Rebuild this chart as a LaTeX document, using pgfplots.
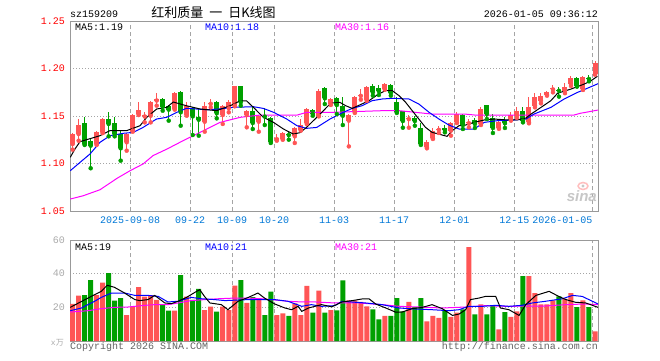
\documentclass[border=0pt]{standalone}
\usepackage{pgfplots}
\pgfplotsset{compat=1.18}
\usepackage{pgfplotstable}
\usepackage{fontspec}
\setmainfont{Liberation Mono}
\newfontfamily\cjk{Noto Sans CJK SC}
\newfontfamily\sansf{Liberation Sans}
\definecolor{cRed}{RGB}{255,85,85}
\definecolor{cGreen}{RGB}{0,160,0}
\definecolor{cFrame}{RGB}{153,153,153}
\definecolor{cGrid}{RGB}{165,165,165}
\definecolor{cDate}{RGB}{0,120,215}
\definecolor{cMag}{RGB}{255,0,255}
\definecolor{cBlue}{RGB}{0,0,255}
\definecolor{cVol}{RGB}{170,170,170}
\definecolor{cCopy}{RGB}{100,100,100}

% up (red) candles: index, open, high, low, close, volume
\pgfplotstableread{
i o h l c v
0 1.1205 1.1321 1.1146 1.1310 22.0
1 1.1310 1.1468 1.1240 1.1405 27.0
4 1.1205 1.1346 1.1195 1.1335 27.3
5 1.1328 1.1475 1.1320 1.1468 34.7
9 1.1223 1.1320 1.1135 1.1310 15.4
10 1.1346 1.1520 1.1335 1.1510 20.4
11 1.1520 1.1644 1.1510 1.1567 32.0
12 1.1495 1.1539 1.1433 1.1506 26.3
13 1.1503 1.1661 1.1433 1.1651 27.3
14 1.1663 1.1742 1.1609 1.1674 24.4
17 1.1574 1.1749 1.1567 1.1739 18.0
19 1.1510 1.1651 1.1503 1.1602 26.3
22 1.1440 1.1644 1.1335 1.1609 18.4
23 1.1628 1.1679 1.1591 1.1639 20.4
25 1.1510 1.1616 1.1416 1.1602 20.4
26 1.1581 1.1672 1.1539 1.1644 18.4
27 1.1609 1.1819 1.1602 1.1819 32.9
29 1.1510 1.1560 1.1381 1.1556 22.6
31 1.1440 1.1510 1.1335 1.1496 25.3
34 1.1256 1.1310 1.1240 1.1267 15.4
35 1.1258 1.1335 1.1250 1.1321 16.4
37 1.1286 1.1381 1.1216 1.1370 22.4
38 1.1356 1.1468 1.1346 1.1405 15.4
39 1.1426 1.1581 1.1416 1.1574 32.7
41 1.1503 1.1784 1.1496 1.1767 29.9
43 1.1626 1.1686 1.1616 1.1679 18.4
46 1.1451 1.1521 1.1180 1.1510 24.2
47 1.1539 1.1714 1.1532 1.1704 24.2
48 1.1712 1.1784 1.1672 1.1723 23.2
49 1.1665 1.1812 1.1658 1.1805 20.6
52 1.1784 1.1847 1.1777 1.1837 14.9
56 1.1467 1.1510 1.1377 1.1478 23.2
59 1.1170 1.1251 1.1160 1.1230 11.7
60 1.1265 1.1370 1.1258 1.1346 14.9
61 1.1354 1.1398 1.1321 1.1365 13.7
63 1.1346 1.1440 1.1293 1.1426 14.3
64 1.1433 1.1539 1.1426 1.1518 16.8
66 1.1424 1.1470 1.1381 1.1435 55.8
68 1.1416 1.1598 1.1405 1.1574 21.8
71 1.1374 1.1451 1.1365 1.1433 6.9
73 1.1468 1.1539 1.1451 1.1514 14.3
74 1.1504 1.1598 1.1480 1.1549 17.6
76 1.1433 1.1697 1.1423 1.1598 38.6
77 1.1609 1.1739 1.1591 1.1704 28.5
78 1.1661 1.1739 1.1633 1.1714 21.8
79 1.1725 1.1760 1.1714 1.1753 21.8
80 1.1780 1.1826 1.1749 1.1791 24.2
82 1.1767 1.1851 1.1740 1.1809 25.1
83 1.1837 1.1921 1.1816 1.1900 28.5
85 1.1781 1.1921 1.1774 1.1914 24.2
87 1.1942 1.2075 1.1935 1.2058 5.7
}\upT

% down (green) candles
\pgfplotstableread{
i o h l c v
2 1.1426 1.1486 1.1195 1.1205 27.3
3 1.1240 1.1258 1.0950 1.1188 36.2
6 1.1468 1.1546 1.1286 1.1416 40.4
7 1.1426 1.1486 1.1286 1.1310 24.0
8 1.1310 1.1346 1.1030 1.1160 25.5
15 1.1679 1.1686 1.1556 1.1598 21.4
16 1.1609 1.1616 1.1451 1.1567 18.0
18 1.1756 1.1763 1.1398 1.1539 39.2
20 1.1581 1.1591 1.1300 1.1496 24.4
21 1.1493 1.1581 1.1293 1.1461 30.9
24 1.1651 1.1661 1.1475 1.1528 17.4
28 1.1819 1.1819 1.1609 1.1644 36.2
30 1.1556 1.1609 1.1363 1.1426 26.0
32 1.1505 1.1581 1.1405 1.1494 15.4
33 1.1475 1.1486 1.1216 1.1230 29.3
36 1.1310 1.1328 1.1251 1.1299 14.9
40 1.1567 1.1574 1.1503 1.1521 16.8
42 1.1791 1.1802 1.1626 1.1686 16.8
44 1.1686 1.1696 1.1521 1.1616 18.2
45 1.1609 1.1696 1.1405 1.1503 36.0
50 1.1812 1.1837 1.1714 1.1749 18.8
51 1.1798 1.1826 1.1721 1.1763 12.9
53 1.1826 1.1833 1.1714 1.1742 14.9
54 1.1644 1.1696 1.1532 1.1546 25.5
55 1.1553 1.1556 1.1377 1.1447 17.6
57 1.1475 1.1503 1.1398 1.1447 20.2
58 1.1374 1.1426 1.1195 1.1205 25.5
62 1.1370 1.1405 1.1328 1.1353 18.2
65 1.1510 1.1521 1.1363 1.1405 18.8
67 1.1458 1.1475 1.1374 1.1416 15.8
69 1.1616 1.1616 1.1468 1.1521 15.8
70 1.1475 1.1521 1.1321 1.1374 21.2
72 1.1458 1.1486 1.1374 1.1423 17.2
75 1.1549 1.1591 1.1433 1.1451 38.6
81 1.1776 1.1802 1.1704 1.1765 26.5
84 1.1900 1.1907 1.1809 1.1819 20.2
86 1.1900 1.1935 1.1865 1.1889 20.2
}\downT

\pgfplotsset{kstyle/.style={
  scale only axis, width=528pt,
  xmin=-0.44, xmax=87.5,
  axis line style={cFrame, line width=1pt},
  xtick={9.56,19.56,26.56,33.56,43.56,53.56,63.56,73.56,86.56},
  xmajorgrids, ymajorgrids,
  x grid style={cGrid, dash pattern=on 4pt off 3pt, line width=0.9pt},
  y grid style={cGrid, dash pattern=on 1pt off 2pt, line width=0.9pt},
  major tick length=0pt,
  /pgf/number format/assume math mode=true,
  ticklabel style={font=\fontsize{10}{12}\selectfont},
  yticklabel style={anchor=east, inner sep=0pt, xshift=-5pt},
}}

\begin{document}
\begin{tikzpicture}[x=1pt,y=1pt]
\useasboundingbox (0,0) rectangle (660,-360);
\fill[white] (0,0) rectangle (660,-360);

% ---------------- price panel ----------------
\begin{axis}[kstyle, at={(70pt,-21pt)}, anchor=north west, height=190pt,
  ymin=1.05, ymax=1.25, ytick={1.05,1.1,1.15,1.2,1.25},
  yticklabel style={color=red, /pgf/number format/.cd, fixed, fixed zerofill, precision=2},
  xticklabels={2025-09-08,09-22,10-09,10-20,11-03,11-17,12-01,12-15,\llap{2026-01-05}},
  xticklabel style={color=cDate, anchor=north, inner sep=0pt, yshift=-5.5pt},
]
% wicks
\addplot[cRed, only marks, mark=none, error bars/.cd, y dir=plus, y explicit, error mark=none,
  error bar style={line width=1pt, draw=cRed}]
  table[x=i, y=l, y error expr=\thisrow{h}-\thisrow{l}] {\upT};
\addplot[cGreen, only marks, mark=none, error bars/.cd, y dir=plus, y explicit, error mark=none,
  error bar style={line width=1pt, draw=cGreen}]
  table[x=i, y=l, y error expr=\thisrow{h}-\thisrow{l}] {\downT};
% bodies
\addplot[cRed, only marks, mark=none, error bars/.cd, y dir=plus, y explicit, error mark=none,
  error bar style={line width=5pt, draw=cRed}]
  table[x=i, y=o, y error expr=\thisrow{c}-\thisrow{o}] {\upT};
\addplot[cGreen, only marks, mark=none, error bars/.cd, y dir=plus, y explicit, error mark=none,
  error bar style={line width=5pt, draw=cGreen}]
  table[x=i, y=c, y error expr=\thisrow{o}-\thisrow{c}] {\downT};
% MA30
\addplot[cMag, line width=1pt, mark=none] coordinates {
(-0.4,1.0626) (1.73,1.066) (4.56,1.0724) (7.39,1.0844) (9.56,1.0924) (11.73,1.0995)
(13.39,1.1083) (15.73,1.1153) (18.39,1.124) (21.23,1.1328) (24.56,1.1433) (27.89,1.1486)
(31.23,1.151) (37.39,1.151) (39,1.1539) (43.39,1.1539) (51.56,1.1556) (54.39,1.1556)
(57.06,1.1539) (59.89,1.152) (65.39,1.152) (67,1.151) (83.5,1.151) (84.5,1.1528)
(86,1.1545) (87.5,1.1563)};
% MA10
\addplot[cBlue, line width=1pt, mark=none] coordinates {
(-0.4,1.0924) (1.23,1.1012) (2.89,1.11) (4.56,1.1223) (6.23,1.1293) (8.46,1.1318)
(10.11,1.1328) (11.76,1.1381) (13.96,1.1468) (15.66,1.1486) (17.36,1.1539) (18.96,1.1581)
(22.36,1.1566) (24.56,1.1575) (26.76,1.1591) (30.11,1.1598) (31.76,1.158) (33.46,1.1539)
(35.66,1.1468) (37.36,1.1398) (38.96,1.137) (40.66,1.138) (42.86,1.1468) (44.86,1.1532)
(46.56,1.158) (48.23,1.1609) (49.86,1.1661) (51.56,1.1679) (53.23,1.1686) (56.01,1.1679)
(57.66,1.1626) (59.36,1.1539) (61.01,1.1468) (62.66,1.1405) (64.36,1.1363) (66.86,1.1363)
(68.56,1.1433) (70.76,1.1451) (73.56,1.1458) (75.51,1.1468) (76.86,1.1521) (79.66,1.1591)
(81.86,1.1679) (84.11,1.1749) (86.36,1.1809) (87.5,1.184)};
% MA5
\addplot[black, line width=1pt, mark=none] coordinates {
(-0.4,1.1065) (0.39,1.1153) (1.23,1.123) (4.56,1.1293) (6.23,1.1346) (9.0,1.1346)
(11.23,1.1398) (12.34,1.1486) (14.0,1.1574) (15.67,1.1591) (16.76,1.1647) (18.96,1.1608)
(21.23,1.1574) (23.96,1.1556) (26.23,1.1608) (27.89,1.166) (28.96,1.166) (30.11,1.1591)
(31.76,1.1486) (33.46,1.1433) (35.11,1.1363) (36.76,1.131) (37.89,1.1325) (38.96,1.1381)
(40.66,1.1486) (43.0,1.1635) (44.5,1.1644) (45.46,1.1609) (46.56,1.158) (49.36,1.1661)
(50.96,1.1732) (52.11,1.1767) (53.23,1.1767) (54.36,1.1714) (55.46,1.1644) (56.56,1.1556)
(57.66,1.1468) (58.76,1.1381) (59.86,1.1328) (60.96,1.131) (62.36,1.1286) (63.23,1.1346)
(64.36,1.1398) (65.46,1.1405) (66.86,1.1433) (68.56,1.1458) (70.23,1.1468) (72.46,1.1458)
(74.11,1.146) (75.51,1.1479) (76.36,1.1521) (78.01,1.1591) (79.66,1.1662) (80.76,1.1739)
(83.01,1.1784) (85.23,1.1837) (86.36,1.1872) (87.4,1.1918)};
\end{axis}

% ---------------- volume panel ----------------
\begin{axis}[kstyle, at={(70pt,-240pt)}, anchor=north west, height=101pt,
  ymin=0, ymax=60, ytick={20,40,60},
  yticklabel style={color=cVol},
  xticklabels={},
]
\addplot[ybar, bar width=5pt, bar shift=0pt, fill=cRed, draw=none] table[x=i, y=v] {\upT};
\addplot[ybar, bar width=5pt, bar shift=0pt, fill=cGreen, draw=none] table[x=i, y=v] {\downT};
% MA30 volume
\addplot[cMag, line width=1pt, mark=none] coordinates {
(-0.4,17.2) (2.56,18.0) (4.76,19.2) (6.96,20.0) (9.26,20.2) (11.46,21.0) (13.66,21.6)
(15.86,21.6) (17.56,22.6) (19.76,24.0) (21.96,24.6) (24.26,25.1) (26.96,25.5) (29.26,25.5)
(31.46,25.1) (33.66,24.4) (35.86,23.6) (38.16,23.2) (40.36,23.2) (43.66,22.6) (47.66,22.6)
(51.56,21.6) (54.36,20.6) (57.66,20.2) (61.56,19.6) (65.46,20.2) (68.76,21.0) (72.16,20.6)
(78.76,20.8) (82.16,21.6) (85.46,22.0) (87.5,21.6)};
% MA10 volume
\addplot[cBlue, line width=1pt, mark=none] coordinates {
(-0.4,18.0) (1.46,19.6) (3.66,23.6) (4.76,25.9) (6.46,28.5) (8.66,28.5) (10.36,27.1)
(12.56,27.1) (14.26,26.5) (15.86,23.2) (17.56,23.6) (19.76,25.9) (21.46,25.1) (23.66,24.6)
(25.36,24.0) (29.26,24.6) (33.66,24.6) (35.86,23.6) (38.16,20.6) (39.76,21.6) (41.46,20.6)
(43.66,21.0) (44.86,23.6) (47.16,23.0) (48.76,22.6) (51.56,21.6) (54.36,19.6) (57.16,19.0)
(59.86,18.6) (62.66,18.0) (64.36,18.6) (65.96,20.6) (68.26,20.6) (70.46,21.2) (72.66,20.6)
(74.86,21.2) (76.56,22.6) (78.76,23.6) (81.56,25.1) (83.26,27.1) (84.86,26.5) (87.16,22.6)
(87.5,22.0)};
% MA5 volume
\addplot[black, line width=1pt, mark=none] coordinates {
(-0.4,20.0) (2.56,25.5) (4.76,29.5) (5.76,33.1) (6.96,31.9) (8.66,28.5) (10.36,24.6)
(11.16,24.0) (12.56,24.6) (13.66,27.1) (15.36,22.6) (16.46,22.2) (17.56,23.6) (18.96,25.9)
(20.36,28.9) (21.16,30.5) (21.96,26.5) (22.86,22.6) (24.76,21.6) (25.86,18.6) (27.56,23.6)
(29.26,25.9) (30.86,28.5) (31.96,25.5) (33.66,22.0) (35.36,19.6) (36.46,18.6) (37.56,20.6)
(38.16,17.6) (39.26,19.6) (40.36,20.6) (41.46,21.6) (43.16,20.3) (44.86,23.2) (46.56,24.0)
(48.26,25.0) (49.36,25.1) (50.46,22.0) (52.16,19.6) (53.76,17.2) (54.86,17.2) (56.56,19.2)
(58.26,20.0) (59.86,21.6) (61.56,19.2) (63.26,15.2) (64.36,16.0) (65.46,18.6) (66.26,24.6)
(67.66,25.5) (68.76,26.5) (70.46,26.5) (71.26,19.6) (72.66,18.6) (74.36,15.2) (75.46,21.6)
(77.16,27.1) (79.36,29.5) (80.96,26.5) (82.16,24.6) (83.76,23.0) (85.46,22.6) (87.5,20.0)};
\end{axis}

% ---------------- texts ----------------
\begin{scope}[every node/.style={inner sep=0pt}]
\node[anchor=base west] at (70,-17) {\fontsize{10}{12}\selectfont sz159209};
\node[anchor=center] at (213.5,-12.5) {\cjk\fontsize{13}{15}\selectfont 红利质量\hspace{6pt}一\hspace{6pt}日K线图};
\node[anchor=base east] at (598,-17) {\fontsize{10}{12}\selectfont 2026-01-05 09:36:12};
\node[anchor=base west] at (75,-30) {\fontsize{10}{12}\selectfont MA5:1.19};
\node[anchor=base west, text=cBlue] at (205,-30) {\fontsize{10}{12}\selectfont MA10:1.18};
\node[anchor=base west, text=cMag] at (335,-30) {\fontsize{10}{12}\selectfont MA30:1.16};
\node[anchor=base west] at (75,-250) {\fontsize{10}{12}\selectfont MA5:19};
\node[anchor=base west, text=cBlue] at (205,-250) {\fontsize{10}{12}\selectfont MA10:21};
\node[anchor=base west, text=cMag] at (335,-250) {\fontsize{10}{12}\selectfont MA30:21};
\node[anchor=base west, text=cCopy] at (70,-349) {\fontsize{10}{12}\selectfont Copyright 2026 SINA.COM};
\node[anchor=base east, text=cCopy] at (598,-349) {\fontsize{10}{12}\selectfont http://finance.sina.com.cn};
\node[anchor=base east, text=cVol] at (64,-345) {\fontsize{8}{10}\selectfont x{\cjk 万}};
\node[anchor=base east, text=black!22] at (597,-201) {\sansf\bfseries\itshape\fontsize{15}{15}\selectfont sina};
\draw[red!25, line width=1.5pt] (583,-186) ellipse (5 and 3.5);
\fill[black!22] (583,-186) circle (1.6);
\end{scope}
\end{tikzpicture}
\end{document}
